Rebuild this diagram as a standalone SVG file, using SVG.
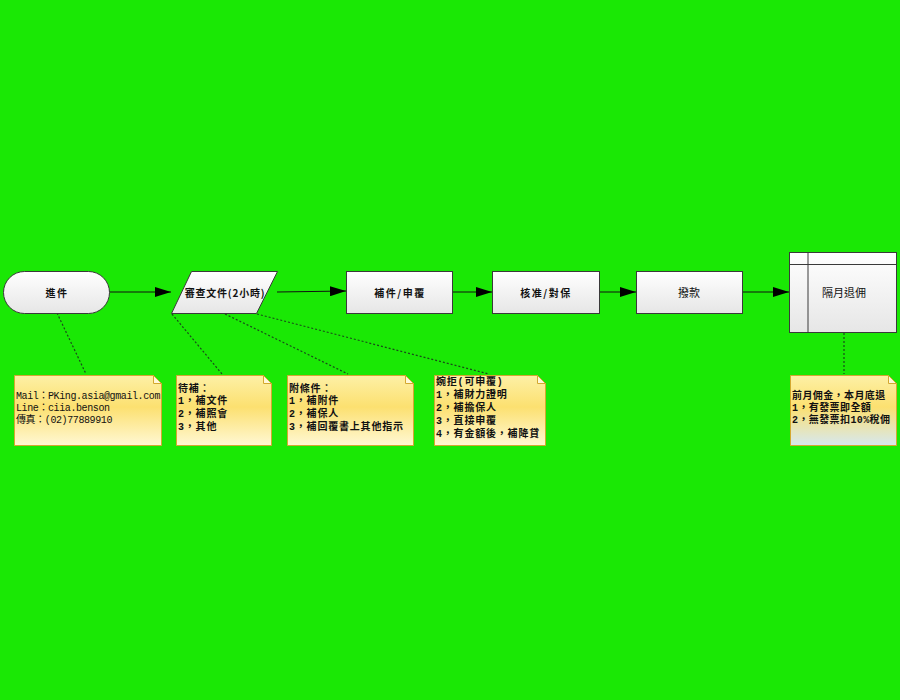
<svg xmlns="http://www.w3.org/2000/svg" width="900" height="700" viewBox="0 0 900 700">
<style>
.node{fill:url(#gNode);stroke:#3a3a3a;stroke-width:1}
.lbl{font-family:"Noto Sans CJK TC","Liberation Serif",serif;font-size:10px;font-weight:bold;fill:#111;text-anchor:middle;dominant-baseline:central;letter-spacing:1.5px}
.lbl2{font-family:"Noto Sans CJK TC","Liberation Serif",serif;font-size:11px;fill:#111;text-anchor:middle;dominant-baseline:central}
.note{fill:url(#gNote);stroke:#d4a830;stroke-width:1}
.note5{fill:url(#gNote5);stroke:#d4a830;stroke-width:1}
.fold{fill:#fff8d8;stroke:#d4a830;stroke-width:1}
.nt{font-family:"Liberation Mono","Noto Sans CJK TC",monospace;font-size:10px;fill:#111;dominant-baseline:central}
.lat{letter-spacing:-0.4px}
.cjk{letter-spacing:0.8px;font-weight:bold}
.flow{stroke:#111;stroke-width:1;fill:none;marker-end:url(#arr)}
.dash{stroke:#1a4a1a;stroke-width:1.2;fill:none;stroke-dasharray:2 2}
</style>
<defs>
<linearGradient id="gNode" x1="0" y1="0" x2="0" y2="1">
<stop offset="0" stop-color="#ffffff"/>
<stop offset="1" stop-color="#e6e6e6"/>
</linearGradient>
<linearGradient id="gNote" x1="0" y1="0" x2="0" y2="1">
<stop offset="0" stop-color="#fdf0a6"/>
<stop offset="0.45" stop-color="#fce070"/>
<stop offset="1" stop-color="#fff8d4"/>
</linearGradient>
<linearGradient id="gNote5" x1="0" y1="0" x2="0" y2="1">
<stop offset="0" stop-color="#fdf0a6"/>
<stop offset="0.45" stop-color="#fce070"/>
<stop offset="1" stop-color="#d6e8f0"/>
</linearGradient>
<marker id="arr" viewBox="0 0 16 10" refX="16" refY="5" markerWidth="16" markerHeight="10" markerUnits="userSpaceOnUse" orient="auto">
<path d="M0,0 L16,5 L0,10 Z" fill="#000"/>
</marker>
</defs>
<rect width="900" height="700" fill="#1ae805"/>

<g id="connectors">
<line class="flow" x1="109" y1="292" x2="171" y2="292"/>
<line class="flow" x1="277" y1="292" x2="346" y2="291"/>
<line class="flow" x1="452" y1="292" x2="492" y2="292"/>
<line class="flow" x1="599" y1="292" x2="636" y2="292"/>
<line class="flow" x1="742" y1="292" x2="789" y2="292"/>
<line class="dash" x1="57" y1="313" x2="86" y2="374"/>
<line class="dash" x1="172" y1="314" x2="222" y2="374"/>
<line class="dash" x1="225" y1="314" x2="348" y2="374"/>
<line class="dash" x1="257" y1="314" x2="489" y2="374"/>
<line class="dash" x1="844" y1="333" x2="844" y2="374"/>
</g>

<g id="n-jinjian">
<rect class="node" x="3.5" y="271.5" width="106" height="42" rx="21" ry="21"/>
<text class="lbl" x="57" y="292">進件</text>
</g>
<g id="n-shencha">
<polygon class="node" points="191.5,271.5 277.5,271.5 256.5,313.5 171.5,313.5"/>
<text class="lbl" x="225" y="292" style="letter-spacing:0.8px">審查文件(2小時)</text>
</g>
<g id="n-bujian">
<rect class="node" x="346.5" y="271.5" width="106" height="42"/>
<text class="lbl" x="400" y="292">補件/申覆</text>
</g>
<g id="n-hezhun">
<rect class="node" x="492.5" y="271.5" width="107" height="42"/>
<text class="lbl" x="546" y="292">核准/對保</text>
</g>
<g id="n-bokuan">
<rect class="node" x="636.5" y="271.5" width="106" height="42"/>
<text class="lbl2" x="689" y="292">撥款</text>
</g>
<g id="n-geyue">
<rect class="node" x="789.5" y="252.5" width="107" height="80"/>
<line x1="808" y1="252.5" x2="808" y2="332.5" stroke="#3a3a3a" stroke-width="1"/>
<line x1="789.5" y1="264.5" x2="896.5" y2="264.5" stroke="#3a3a3a" stroke-width="1"/>
<text class="lbl2" x="844" y="292">隔月退佣</text>
</g>

<g id="note1">
<path class="note" d="M14.5,375.5 H153.5 L161.5,383.5 V445.5 H14.5 Z"/>
<path class="fold" d="M153.5,375.5 V383.5 H161.5 Z"/>
<text class="nt lat" x="16" y="396">Mail：PKing.asia@gmail.com</text>
<text class="nt lat" x="16" y="408">Line：ciia.benson</text>
<text class="nt lat" x="16" y="420">傳真：(02)77889910</text>
</g>
<g id="note2">
<path class="note" d="M176.5,375.5 H263.5 L271.5,383.5 V445.5 H176.5 Z"/>
<path class="fold" d="M263.5,375.5 V383.5 H271.5 Z"/>
<text class="nt cjk" x="178" y="389">待補：</text>
<text class="nt cjk" x="178" y="401">1，補文件</text>
<text class="nt cjk" x="178" y="414">2，補照會</text>
<text class="nt cjk" x="178" y="427">3，其他</text>
</g>
<g id="note3">
<path class="note" d="M287.5,375.5 H405.5 L413.5,383.5 V445.5 H287.5 Z"/>
<path class="fold" d="M405.5,375.5 V383.5 H413.5 Z"/>
<text class="nt cjk" x="289" y="389">附條件：</text>
<text class="nt cjk" x="289" y="401">1，補附件</text>
<text class="nt cjk" x="289" y="414">2，補保人</text>
<text class="nt cjk" x="289" y="427">3，補回覆書上其他指示</text>
</g>
<g id="note4">
<path class="note" d="M434.5,375.5 H537.5 L545.5,383.5 V445.5 H434.5 Z"/>
<path class="fold" d="M537.5,375.5 V383.5 H545.5 Z"/>
<text class="nt cjk" x="436" y="382">婉拒(可申覆)</text>
<text class="nt cjk" x="436" y="395">1，補財力證明</text>
<text class="nt cjk" x="436" y="408">2，補擔保人</text>
<text class="nt cjk" x="436" y="421">3，直接申覆</text>
<text class="nt cjk" x="436" y="434">4，有金額後，補降貸</text>
</g>
<g id="note5">
<path class="note5" d="M790.5,375.5 H888.5 L896.5,383.5 V445.5 H790.5 Z"/>
<path class="fold" d="M888.5,375.5 V383.5 H896.5 Z"/>
<text class="nt cjk" x="792" y="396" style="letter-spacing:0.4px">前月佣金，本月底退</text>
<text class="nt cjk" x="792" y="408" style="letter-spacing:0.4px">1，有發票即全額</text>
<text class="nt cjk" x="792" y="420" style="letter-spacing:0.4px">2，無發票扣10%稅佣</text>
</g>
</svg>
